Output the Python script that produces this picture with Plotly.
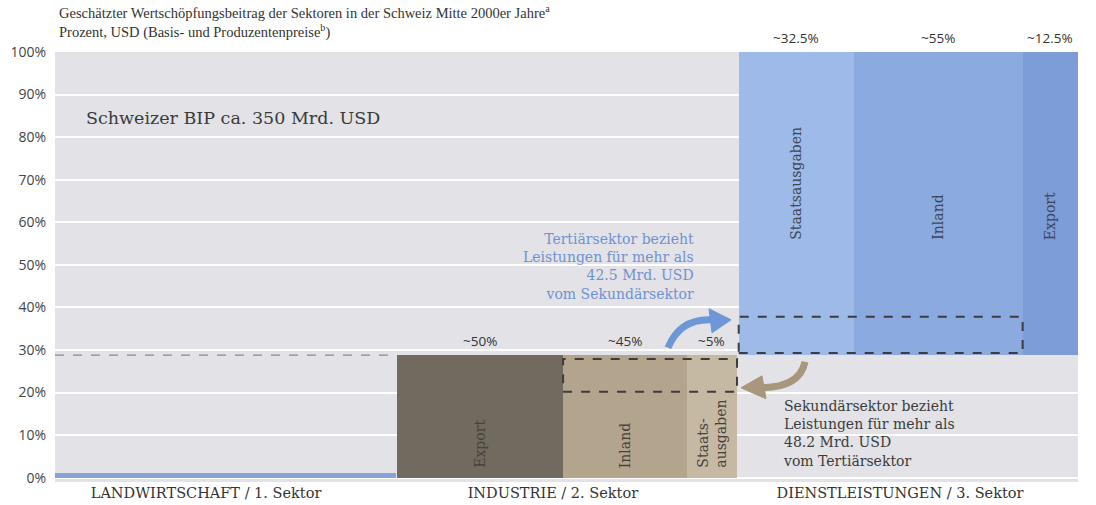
import plotly.graph_objects as go

# ---------------- data ----------------
sectors = ["LANDWIRTSCHAFT / 1. Sektor", "INDUSTRIE / 2. Sektor", "DIENSTLEISTUNGEN / 3. Sektor"]
sector_label_pos = [0.443, 1.46, 2.478]
sector_base = [0.0, 0.0, 28.8]
sector_top = [1.2, 28.8, 100.0]

agri_segments = ["Landwirtschaft"]
agri_shares = [1.0]

ind_segments = ["Export", "Inland", "Staats-<br>ausgaben"]
ind_shares = [0.488, 0.364, 0.148]
ind_labels = ["~50%", "~45%", "~5%"]

dl_segments = ["Staatsausgaben", "Inland", "Export"]
dl_shares = [0.34, 0.496, 0.164]
dl_labels = ["~32.5%", "~55%", "~12.5%"]

y_ticks = [0, 10, 20, 30, 40, 50, 60, 70, 80, 90, 100]
y_ticktext = ["0%", "10%", "20%", "30%", "40%", "50%", "60%", "70%", "80%", "90%", "100%"]

ind_flow_box = [20.2, 27.9]   # Sekundärsektor -> Tertiärsektor
dl_flow_box = [29.3, 37.8]    # Tertiärsektor -> Sekundärsektor

# ---------------- styles ----------------
agri_colors = ["#84a4da"]
ind_colors = ["#716a5f", "#b3a48e", "#c6b9a4"]
dl_colors = ["#9dbae8", "#8aaae0", "#7c9dd7"]
SERIF = "DejaVu Serif, Liberation Serif, serif"
SANS = "Open Sans, Noto Sans, sans-serif"

fig = go.Figure()


def add_sector(idx, names, shares, colors, offset=0.0):
    left = idx + offset
    bounds = []
    for name, s, c in zip(names, shares, colors):
        w = s - offset / len(shares)
        fig.add_trace(go.Bar(
            x=[left + w / 2], y=[sector_top[idx] - sector_base[idx]],
            base=[sector_base[idx]], width=[w],
            marker=dict(color=c, line=dict(width=0)), name=name,
            hoverinfo="name", showlegend=False,
        ))
        bounds.append((left, left + w))
        left += w
    return bounds


agri_b = add_sector(0, agri_segments, agri_shares, agri_colors, offset=0.0)
ind_b = add_sector(1, ind_segments, ind_shares, ind_colors, offset=0.003)
dl_b = add_sector(2, dl_segments, dl_shares, dl_colors, offset=0.005)

annotations = []
shapes = []

# share labels above segments
for (l, r), lab in zip(ind_b, ind_labels):
    annotations.append(dict(x=(l + r) / 2, y=sector_top[1], text=lab, showarrow=False,
                            yanchor="bottom", yshift=3, font=dict(family=SANS, size=13.5, color="#333")))
for (l, r), lab in zip(dl_b, dl_labels):
    annotations.append(dict(x=(l + r) / 2, y=sector_top[2], text=lab, showarrow=False,
                            yanchor="bottom", yshift=3, font=dict(family=SANS, size=13.5, color="#333")))

# rotated segment names
for (l, r), nm in zip(ind_b, ind_segments):
    annotations.append(dict(x=(l + r) / 2, y=sector_base[1], text=nm, textangle=-90, showarrow=False,
                            yanchor="bottom", yshift=8, align="left",
                            font=dict(family=SERIF, size=14, color="#48423a")))
for (l, r), nm in zip(dl_b, dl_segments):
    annotations.append(dict(x=(l + r) / 2, y=55.4, text=nm, textangle=-90, showarrow=False,
                            yanchor="bottom", font=dict(family=SERIF, size=14, color="#3c4757")))

# dashed line across agriculture at industry height
shapes.append(dict(type="line", x0=0, x1=1, y0=sector_top[1], y1=sector_top[1],
                   line=dict(color="#8a8a8a", width=1.2, dash="dash"), layer="above"))

# dashed flow boxes
shapes.append(dict(type="rect", x0=ind_b[1][0], x1=ind_b[2][1], y0=ind_flow_box[0], y1=ind_flow_box[1],
                   line=dict(color="#3d3d3d", width=2, dash="dash"), layer="above"))
shapes.append(dict(type="rect", x0=dl_b[0][0], x1=dl_b[1][1], y0=dl_flow_box[0], y1=dl_flow_box[1],
                   line=dict(color="#3d3d3d", width=2, dash="dash"), layer="above"))

# curved arrows (pixel-based decoration -> data coords)
X0, PXU = 55, 341.0
Y0, PYU = 478, 4.26


def X(px):
    return (px - X0) / PXU


def Y(py):
    return (Y0 - py) / PYU


blue = "#6d97d6"
tan = "#a8977d"
shapes.append(dict(type="path",
                   path=f"M {X(668)},{Y(348)} Q {X(680)},{Y(318)} {X(713)},{Y(320)}",
                   line=dict(color=blue, width=7), layer="above"))
shapes.append(dict(type="path",
                   path=f"M {X(709)},{Y(309)} L {X(731)},{Y(320)} L {X(712)},{Y(333)} Z",
                   fillcolor=blue, line=dict(color=blue, width=1), layer="above"))
shapes.append(dict(type="path",
                   path=f"M {X(805)},{Y(362)} Q {X(800)},{Y(387)} {X(763)},{Y(388)}",
                   line=dict(color=tan, width=7), layer="above"))
shapes.append(dict(type="path",
                   path=f"M {X(762)},{Y(376)} L {X(741)},{Y(388)} L {X(766)},{Y(399)} Z",
                   fillcolor=tan, line=dict(color=tan, width=1), layer="above"))

# text annotations
annotations.append(dict(x=X(84), y=Y(118), xanchor="left", yanchor="middle", showarrow=False,
                        text="Schweizer BIP ca. 350 Mrd. USD",
                        font=dict(family=SERIF, size=17.5, color="#3a3a3a")))
annotations.append(dict(x=X(696), y=Y(229), xanchor="right", yanchor="top", showarrow=False, align="right",
                        text="Tertiärsektor bezieht<br>Leistungen für mehr als<br>42.5 Mrd. USD<br>vom Sekundärsektor",
                        font=dict(family=SERIF, size=14, color="#6f93cf")))
annotations.append(dict(x=X(781), y=Y(396), xanchor="left", yanchor="top", showarrow=False, align="left",
                        text="Sekundärsektor bezieht<br>Leistungen für mehr als<br>48.2 Mrd. USD<br>vom Tertiärsektor",
                        font=dict(family=SERIF, size=14, color="#3c3c3c")))

# title
annotations.append(dict(x=0, y=1, xref="paper", yref="paper", xanchor="left", yanchor="bottom",
                        xshift=2, yshift=9, showarrow=False, align="left",
                        text="Geschätzter Wertschöpfungsbeitrag der Sektoren in der Schweiz Mitte 2000er Jahre<sup>a</sup>"
                             "<br>Prozent, USD (Basis- und Produzentenpreise<sup>b</sup>)",
                        font=dict(family="Liberation Serif, serif", size=14.5, color="#333")))

fig.update_layout(
    width=1096, height=505,
    margin=dict(l=55, r=18, t=52, b=23),
    paper_bgcolor="white", plot_bgcolor="#e2e2e7",
    barmode="overlay", bargap=0,
    showlegend=False,
    xaxis=dict(range=[0, 3], tickvals=sector_label_pos, ticktext=sectors, showgrid=False,
               zeroline=False, ticks="", tickfont=dict(family=SERIF, size=14.5, color="#333"),
               fixedrange=True, automargin=False),
    yaxis=dict(range=[-1, 100], tickvals=y_ticks, ticktext=y_ticktext, showgrid=True,
               gridcolor="white", gridwidth=2, zeroline=False, ticks="",
               tickfont=dict(family=SANS, size=14, color="#444"), fixedrange=True,
               automargin=False, ticklabelstandoff=8),
    annotations=annotations, shapes=shapes,
)

fig.write_html("out.html", config={"displayModeBar": False},
               post_script="document.body.style.margin='0';document.body.style.padding='0';")
